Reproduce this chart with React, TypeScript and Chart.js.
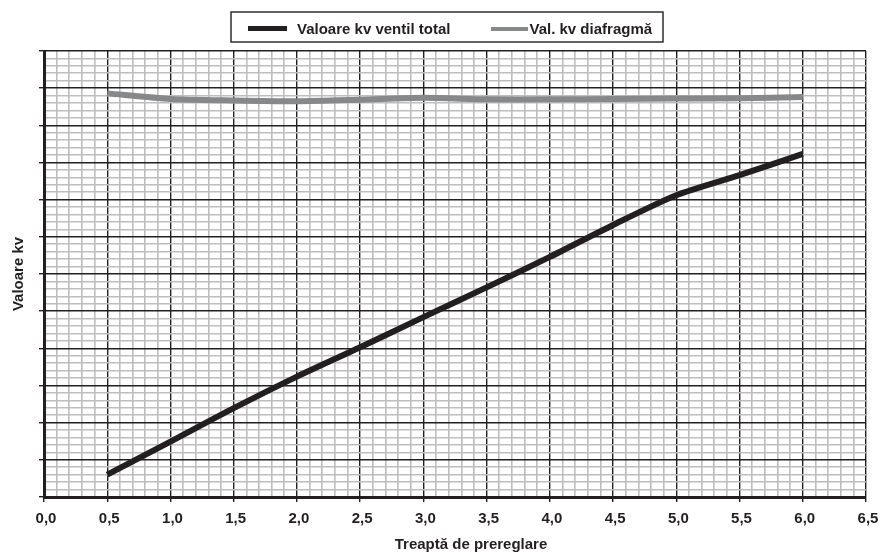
import React, { useEffect, useRef } from 'react';
import { Chart, registerables } from 'chart.js';

Chart.register(...registerables);

// ---- data ----
const presetSteps = [0.5, 1.0, 1.5, 2.0, 2.5, 3.0, 3.5, 4.0, 4.5, 5.0, 5.5, 6.0];
const kvTotal = [0.6, 1.49, 2.39, 3.24, 4.03, 4.84, 5.64, 6.46, 7.32, 8.12, 8.66, 9.23];
const kvDiaphragm = [10.86, 10.71, 10.67, 10.65, 10.69, 10.74, 10.7, 10.7, 10.71, 10.72, 10.73, 10.76];
const xTickLabels = ['0,0', '0,5', '1,0', '1,5', '2,0', '2,5', '3,0', '3,5', '4,0', '4,5', '5,0', '5,5', '6,0', '6,5'];
const seriesLabels = ['Valoare kv ventil total', 'Val. kv diafragmă'];
const xTitle = 'Treaptă de prereglare';
const yTitle = 'Valoare kv';

const INK = '#231f20';
const GREY = '#87888a';
const MINOR = '#bdbdbd';
const FONT = '"Liberation Sans", Arial, Helvetica, sans-serif';

const isMajorX = (v: number) => Math.abs(v * 2 - Math.round(v * 2)) < 1e-6;
const isMajorY = (v: number) => Math.abs(v - Math.round(v)) < 1e-6;

const boxedLegend = {
  id: 'boxedLegend',
  afterDraw(chart: any) {
    const ctx = chart.ctx;
    const ds = chart.data.datasets;
    ctx.save();
    ctx.strokeStyle = INK;
    ctx.lineWidth = 1.4;
    ctx.strokeRect(231, 12, 432, 30);
    ctx.font = 'bold 15px ' + FONT;
    ctx.textBaseline = 'alphabetic';
    ctx.textAlign = 'left';
    const items = [
      { x0: 248, x1: 287, tx: 297, w: 5, y: 28.5 },
      { x0: 491, x1: 528, tx: 529.5, w: 4, y: 29 },
    ];
    items.forEach((it, i) => {
      ctx.strokeStyle = ds[i].borderColor;
      ctx.lineWidth = it.w;
      ctx.beginPath();
      ctx.moveTo(it.x0, it.y);
      ctx.lineTo(it.x1, it.y);
      ctx.stroke();
      ctx.fillStyle = INK;
      ctx.fillText(ds[i].label, it.tx, 34);
    });
    // x axis title
    ctx.textAlign = 'center';
    ctx.fillText(xTitle, 471, 549);
    ctx.restore();
  },
};

export default function App() {
  const ref = useRef<HTMLCanvasElement>(null);
  useEffect(() => {
    if (!ref.current) return;
    const chart = new Chart(ref.current, {
      type: 'line',
      data: {
        datasets: [
          {
            label: seriesLabels[0],
            data: presetSteps.map((x, i) => ({ x, y: kvTotal[i] })),
            borderColor: INK,
            borderWidth: 6,
            pointRadius: 0,
            tension: 0.25,
            fill: false,
          },
          {
            label: seriesLabels[1],
            data: presetSteps.map((x, i) => ({ x, y: kvDiaphragm[i] })),
            borderColor: GREY,
            borderWidth: 6,
            pointRadius: 0,
            tension: 0.25,
            fill: false,
          },
        ],
      },
      options: {
        animation: false,
        responsive: false,
        devicePixelRatio: 1,
        layout: { padding: { top: 51, right: 15, left: 0, bottom: 0 } },
        plugins: {
          legend: { display: false },
          tooltip: { enabled: false },
        },
        scales: {
          x: {
            type: 'linear',
            min: 0,
            max: 6.5,
            afterFit: (s: any) => { s.height = 55; s.paddingLeft = 0; s.paddingRight = 0; },
            ticks: {
              stepSize: 0.1,
              autoSkip: false,
              maxRotation: 0,
              minRotation: 0,
              padding: 8,
              labelOffset: 2,
              color: INK,
              font: { family: FONT, size: 15, weight: 'bold' },
              callback: (v: any) => (isMajorX(Number(v)) ? xTickLabels[Math.round(Number(v) * 2)] : ''),
            },
            grid: {
              color: (c: any) => (isMajorX(c.tick ? c.tick.value : 0) ? INK : MINOR),
              lineWidth: (c: any) => (isMajorX(c.tick ? c.tick.value : 0) ? 1.4 : 1.6),
              tickColor: (c: any) => (isMajorX(c.tick ? c.tick.value : 0) ? INK : 'rgba(0,0,0,0)'),
              tickLength: 5,
            },
            border: { display: true, color: INK, width: 3 },
            title: { display: false },
          },
          y: {
            type: 'linear',
            min: 0,
            max: 12,
            afterFit: (s: any) => { s.width = 44; s.paddingTop = 0; s.paddingBottom = 0; },
            ticks: {
              stepSize: 0.2,
              autoSkip: false,
              display: false,
            },
            grid: {
              color: (c: any) => (isMajorY(c.tick ? c.tick.value : 0) ? INK : MINOR),
              lineWidth: (c: any) => (isMajorY(c.tick ? c.tick.value : 0) ? 1.4 : 1.6),
              tickColor: (c: any) => (isMajorY(c.tick ? c.tick.value : 0) ? INK : 'rgba(0,0,0,0)'),
              tickLength: 5,
            },
            border: { display: true, color: INK, width: 3 },
            title: {
              display: true,
              text: yTitle,
              color: INK,
              font: { family: FONT, size: 15, weight: 'bold' },
              padding: { top: 10, bottom: 0 },
            },
          },
        },
      } as any,
      plugins: [boxedLegend],
    });
    return () => chart.destroy();
  }, []);
  return (
    <div style={{ position: 'fixed', left: 0, top: 0, width: 881, height: 552, background: '#fff' }}>
      <canvas ref={ref} width={881} height={552} style={{ display: 'block' }} />
    </div>
  );
}
